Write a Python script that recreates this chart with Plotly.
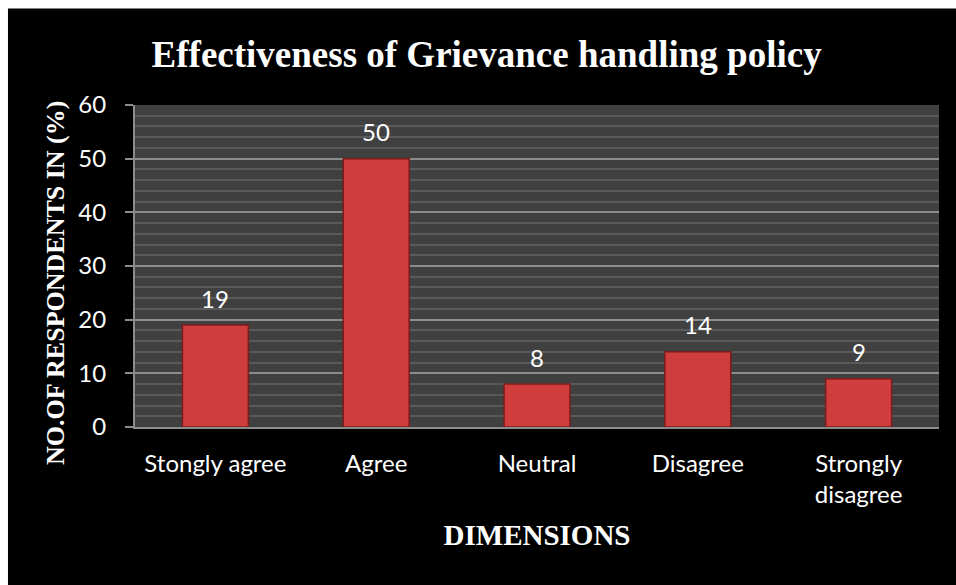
import plotly.graph_objects as go

# Survey responses on the grievance handling policy
categories = ["Stongly agree", "Agree", "Neutral", "Disagree", "Strongly<br>disagree"]
percentages = [19, 50, 8, 14, 9]
y_ticks = [0, 10, 20, 30, 40, 50, 60]

BAR_FILL = "#cf3d3d"
BAR_EDGE = "#7e1b1b"
LABEL_FONT = "Lato, 'Open Sans', sans-serif"
SERIF = "'Liberation Serif', 'Times New Roman', serif"

fig = go.Figure()
fig.add_trace(go.Bar(
    x=categories,
    y=percentages,
    width=0.41,
    marker=dict(color=BAR_FILL, line=dict(color=BAR_EDGE, width=1.5)),
    hoverinfo="x+y",
))

# value labels above each bar
for cat, val in zip(categories, percentages):
    fig.add_annotation(
        x=cat, y=val, text=str(val), showarrow=False,
        xanchor="center", yanchor="middle", yshift=27,
        font=dict(family=LABEL_FONT, size=24, color="white"),
    )

# vertical axis title, set slightly below the plot's midpoint
fig.add_annotation(
    text="<b>NO.OF RESPONDENTS IN (%)</b>", textangle=-90,
    xref="paper", yref="paper", x=-0.0995, y=0.447,
    xanchor="center", yanchor="middle", showarrow=False,
    font=dict(family=SERIF, size=26, color="white"),
)

# black panel behind the whole chart, leaving a thin white page border
fig.add_shape(type="rect", xref="paper", yref="paper",
              x0=-0.158, x1=1.03, y0=-0.5, y1=1.30,
              fillcolor="black", line=dict(width=0), layer="below")
# dark grey plotting panel
fig.add_shape(type="rect", xref="paper", yref="paper",
              x0=0, x1=1, y0=0, y1=1,
              fillcolor="#404040", line=dict(width=0), layer="below")

fig.update_layout(
    width=956, height=585,
    margin=dict(l=135, r=17, t=105, b=158),
    paper_bgcolor="white",
    plot_bgcolor="#404040",
    showlegend=False,
    bargap=0.59,
    title=dict(
        text="<b>Effectiveness of Grievance handling policy</b>",
        font=dict(family=SERIF, size=37, color="white"),
        x=0.509, xref="container", xanchor="center",
        y=0.907, yref="container", yanchor="middle",
    ),
    xaxis=dict(
        showgrid=False,
        showline=True, linecolor="#8c8c8c", linewidth=2,
        ticks="",
        ticklabelstandoff=14,
        tickfont=dict(family=LABEL_FONT, size=24, color="white"),
        title=dict(text="<b>DIMENSIONS</b>",
                   font=dict(family=SERIF, size=29, color="white"),
                   standoff=18),
        fixedrange=True,
    ),
    yaxis=dict(
        range=[0, 60],
        tickvals=y_ticks,
        showgrid=True, gridcolor="#8c8c8c", gridwidth=2,
        minor=dict(dtick=2, showgrid=True, gridcolor="#5a5a5a", gridwidth=2),
        showline=True, linecolor="#8c8c8c", linewidth=2,
        ticks="outside", ticklen=8, tickcolor="#8c8c8c", tickwidth=2,
        ticklabelstandoff=14,
        tickfont=dict(family=LABEL_FONT, size=24, color="white"),
        zeroline=False,
        fixedrange=True,
    ),
)

fig.write_html("out.html")
